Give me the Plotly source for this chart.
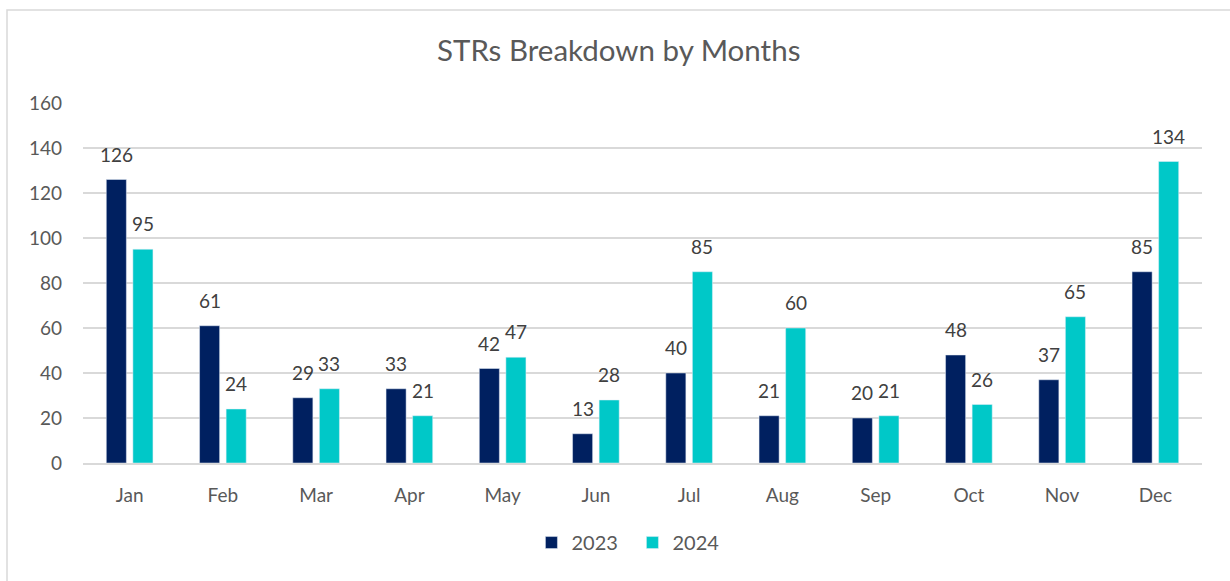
import plotly.graph_objects as go

months = ["Jan", "Feb", "Mar", "Apr", "May", "Jun", "Jul", "Aug", "Sep", "Oct", "Nov", "Dec"]
values_2023 = [126, 61, 29, 33, 42, 13, 40, 21, 20, 48, 37, 85]
values_2024 = [95, 24, 33, 21, 47, 28, 85, 60, 21, 26, 65, 134]
y_ticks = [0, 20, 40, 60, 80, 100, 120, 140, 160]

FONT = "Lato, 'Open Sans', sans-serif"
GREY = "#595959"
LABEL = "#404040"

fig = go.Figure()
fig.add_trace(go.Bar(x=months, y=values_2023, name="2023", marker=dict(color="#002060")))
fig.add_trace(go.Bar(x=months, y=values_2024, name="2024", marker=dict(color="#00C8C8")))

# data labels above bars (offset to each bar of the group)
for series, shift in ((values_2023, -13.25), (values_2024, 13.25)):
    for m, v in zip(months, series):
        fig.add_annotation(x=m, y=v, text=str(v), showarrow=False,
                           xshift=shift, yshift=12, yanchor="bottom",
                           font=dict(family=FONT, size=19, color=LABEL))

fig.update_layout(
    width=1230, height=581,
    paper_bgcolor="white", plot_bgcolor="white",
    margin=dict(l=83, r=28, t=103, b=118),
    barmode="group", bargap=0.43, bargroupgap=0.245,
    title=dict(text="STRs Breakdown by Months", x=0.503, xanchor="center",
               y=0.913, yanchor="middle",
               font=dict(family=FONT, size=29.5, color=GREY)),
    font=dict(family=FONT, size=19, color=GREY),
    legend=dict(orientation="h", x=0.491, xanchor="center", y=-0.221, yanchor="middle",
                font=dict(family=FONT, size=20, color=GREY), itemwidth=30,
                entrywidth=56, entrywidthmode="pixels",
                traceorder="normal"),
    showlegend=True,
)
fig.update_xaxes(
    showgrid=False, showline=True, linecolor="#d9d9d9", linewidth=2,
    tickfont=dict(family=FONT, size=19, color=GREY), ticklabelstandoff=14,
)
fig.update_yaxes(
    range=[0, 160], tickvals=y_ticks, showgrid=True, gridcolor="#d9d9d9", gridwidth=1.5,
    zeroline=False, showline=False,
    tickfont=dict(family=FONT, size=19, color=GREY), ticklabelstandoff=20,
)
fig.add_shape(type="rect", xref="paper", yref="paper",
              x0=(7 - 83) / 1119, x1=(1240 - 83) / 1119,
              y0=(463.3 - 600) / 360.3, y1=(463.3 - 10) / 360.3,
              line=dict(color="#d9d9d9", width=1.5), fillcolor="rgba(0,0,0,0)", layer="below")

fig.write_html("out.html", config={"displayModeBar": False},
               post_script="document.body.style.margin='0';")
